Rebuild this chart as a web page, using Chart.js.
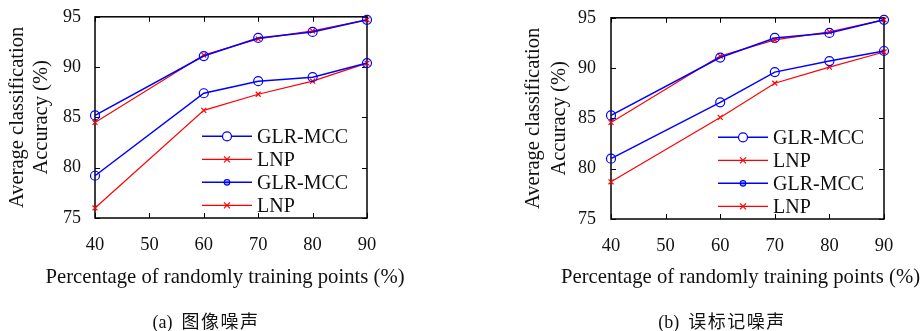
<!DOCTYPE html>
<html>
<head>
<meta charset="utf-8">
<script src="https://cdn.jsdelivr.net/npm/chart.js@4/dist/chart.umd.min.js"></script>
<style>
  html, body { margin:0; padding:0; background:#fff; }
  body { width:924px; height:331px; position:relative; overflow:hidden; }
  .pane { position:absolute; top:0; width:462px; height:331px; }
  .cap { position:absolute; top:308px; white-space:nowrap; color:#111;
         font-family:"Liberation Serif","Times New Roman",serif; font-size:18px; line-height:24px;
         transform:translateX(-50%); }
  .cap span { font-family:"Noto Sans CJK SC",sans-serif; font-size:18px; letter-spacing:1.5px; }
</style>
</head>
<body>
<div class="pane" style="left:0"><canvas id="chart-a" width="462" height="331"></canvas></div>
<div class="pane" style="left:462px"><canvas id="chart-b" width="462" height="331"></canvas></div>
<div class="cap" style="left:206px">(a)&nbsp;&nbsp;<span>图像噪声</span></div>
<div class="cap" style="left:722px">(b)&nbsp;&nbsp;<span>误标记噪声</span></div>
<script>
'use strict';
const xValues = [40, 60, 70, 80, 90];
const seriesLabels = ['GLR-MCC', 'LNP', 'GLR-MCC', 'LNP'];

// (a) image noise
const imgGlrMcc  = [85.2, 91.1, 92.9, 93.5, 94.7];
const imgLnp     = [84.5, 91.2, 92.8, 93.6, 94.7];
const imgGlrMcc2 = [79.2, 87.4, 88.6, 89.0, 90.4];
const imgLnp2    = [76.0, 85.7, 87.3, 88.6, 90.4];

// (b) label noise
const lblGlrMcc  = [85.3, 91.05, 93.0, 93.5, 94.8];
const lblLnp     = [84.6, 91.2, 92.8, 93.6, 94.8];
const lblGlrMcc2 = [81.0, 86.6, 89.6, 90.7, 91.7];
const lblLnp2    = [78.7, 85.1, 88.5, 90.1, 91.6];

const xTicks = [40, 50, 60, 70, 80, 90];
const yTicks = [75, 80, 85, 90, 95];
const xTitle = 'Percentage of randomly training points (%)';
const yTitle = ['Average classification', 'Accuracy (%)'];

const SERIF = '"Liberation Serif","Times New Roman",serif';
const BLUE = '#0000ff', RED = '#ff0000';

// marker style for each series: plot marker + legend marker
const styles = [
  { color:BLUE, width:1.5, point:'circle',   radius:4.5, legend:'open' },
  { color:RED,  width:1.2, point:'crossRot', radius:3.5, legend:'cross' },
  { color:BLUE, width:1.5, point:'circle',   radius:4.5, legend:'dot' },
  { color:RED,  width:1.2, point:'crossRot', radius:3.5, legend:'cross' },
];

// box frame with inward ticks on all four sides
const framePlugin = {
  id:'frame',
  beforeDatasetsDraw(chart) {
    const { ctx, chartArea:a, scales:{ x, y } } = chart;
    ctx.save();
    ctx.strokeStyle = '#000';
    ctx.lineWidth = 1.5;
    ctx.strokeRect(a.left, a.top, a.right - a.left, a.bottom - a.top);
    ctx.lineWidth = 1;
    ctx.beginPath();
    x.ticks.forEach(t => {
      const px = Math.round(x.getPixelForValue(t.value)) + 0.5;
      ctx.moveTo(px, a.bottom); ctx.lineTo(px, a.bottom - 5);
      ctx.moveTo(px, a.top);    ctx.lineTo(px, a.top + 5);
    });
    y.ticks.forEach(t => {
      const py = Math.round(y.getPixelForValue(t.value)) + 0.5;
      ctx.moveTo(a.left, py);  ctx.lineTo(a.left + 5, py);
      ctx.moveTo(a.right, py); ctx.lineTo(a.right - 5, py);
    });
    ctx.stroke();
    ctx.restore();
  }
};

// x title drawn by hand: the built-in one is squeezed to the plot width
const xTitlePlugin = {
  id:'xTitleFree',
  afterDraw(chart, args, opts) {
    const { ctx, chartArea:a } = chart;
    ctx.save();
    ctx.font = '20.7px ' + SERIF;
    ctx.fillStyle = '#111';
    ctx.textAlign = 'center';
    ctx.textBaseline = 'middle';
    ctx.fillText(opts.text, (a.left + a.right) / 2 + opts.dx, opts.y);
    ctx.restore();
  }
};

// legend drawn inside the plot, lower right
const innerLegend = {
  id:'innerLegend',
  afterDraw(chart) {
    const { ctx, chartArea:a } = chart;
    const x0 = a.left + 107, x1 = x0 + 50, tx = x1 + 5;
    ctx.save();
    ctx.font = '20px ' + SERIF;
    ctx.textBaseline = 'middle';
    chart.data.datasets.forEach((ds, i) => {
      const s = styles[i];
      const yy = a.top + 119.5 + i * 23;
      ctx.strokeStyle = s.color;
      ctx.lineWidth = s.width;
      ctx.beginPath(); ctx.moveTo(x0, yy); ctx.lineTo(x1, yy); ctx.stroke();
      const cx = (x0 + x1) / 2;
      ctx.lineWidth = 1.2;
      if (s.legend === 'open') {
        ctx.beginPath(); ctx.arc(cx, yy, 4.5, 0, Math.PI * 2);
        ctx.fillStyle = '#fff'; ctx.fill(); ctx.stroke();
      } else if (s.legend === 'dot') {
        ctx.beginPath(); ctx.arc(cx, yy, 2.8, 0, Math.PI * 2);
        ctx.fillStyle = 'rgba(0,0,255,0.35)'; ctx.fill(); ctx.stroke();
      } else {
        const r = 3;
        ctx.beginPath();
        ctx.moveTo(cx - r, yy - r); ctx.lineTo(cx + r, yy + r);
        ctx.moveTo(cx + r, yy - r); ctx.lineTo(cx - r, yy + r);
        ctx.stroke();
      }
      ctx.fillStyle = '#111';
      ctx.fillText(ds.label, tx, yy + 1);
    });
    ctx.restore();
  }
};

function makeChart(id, series, lay) {
  const datasets = series.map((vals, i) => {
    const s = styles[i];
    return {
      label: seriesLabels[i],
      data: xValues.map((xv, j) => ({ x:xv, y:vals[j] })),
      borderColor: s.color, borderWidth: s.width,
      pointStyle: s.point, pointRadius: s.radius,
      pointBorderColor: s.color, pointBorderWidth: 1.2,
      pointBackgroundColor: 'rgba(255,255,255,0)',
      tension: 0, clip: false,
    };
  });
  return new Chart(document.getElementById(id), {
    type:'line',
    data:{ datasets },
    options:{
      responsive:false, animation:false, devicePixelRatio:1,
      layout:{ padding:{ left:lay.padLeft, right:lay.padRight, top:lay.top, bottom:42 } },
      plugins:{
        legend:{ display:false }, tooltip:{ enabled:false },
        xTitleFree:{ text:xTitle, dx:lay.titleDx, y:278 },
      },
      scales:{
        x:{ type:'linear', min:40, max:90,
            afterBuildTicks: sc => { sc.ticks = xTicks.map(v => ({ value:v })); },
            afterFit: sc => { sc.height = lay.xHeight; },
            border:{ display:false }, grid:{ display:false },
            ticks:{ color:'#111', padding:8, font:{ family:SERIF, size:18.5 } },
            title:{ display:false } },
        y:{ min:75, max:95,
            afterBuildTicks: sc => { sc.ticks = yTicks.map(v => ({ value:v })); },
            afterFit: sc => { sc.width = lay.yWidth; },
            border:{ display:false }, grid:{ display:false },
            ticks:{ color:'#111', padding:lay.yPad, font:{ family:SERIF, size:18 } },
            title:{ display:true, text:yTitle, color:'#111',
                    padding:{ top:6, bottom:0 }, font:{ family:SERIF, size:20.5, lineHeight:lay.titleLH } } },
      },
    },
    plugins:[framePlugin, innerLegend, xTitlePlugin],
  });
}

makeChart('chart-a', [imgGlrMcc, imgLnp, imgGlrMcc2, imgLnp2],
  { padLeft:0, padRight:95, top:16, yWidth:95, xHeight:71, yPad:6, titleLH:24 / 20.5, titleDx:-6 });
makeChart('chart-b', [lblGlrMcc, lblLnp, lblGlrMcc2, lblLnp2],
  { padLeft:53, padRight:40, top:15, yWidth:96, xHeight:70, yPad:7, titleLH:26 / 20.5, titleDx:-7 });
</script>
</body>
</html>
